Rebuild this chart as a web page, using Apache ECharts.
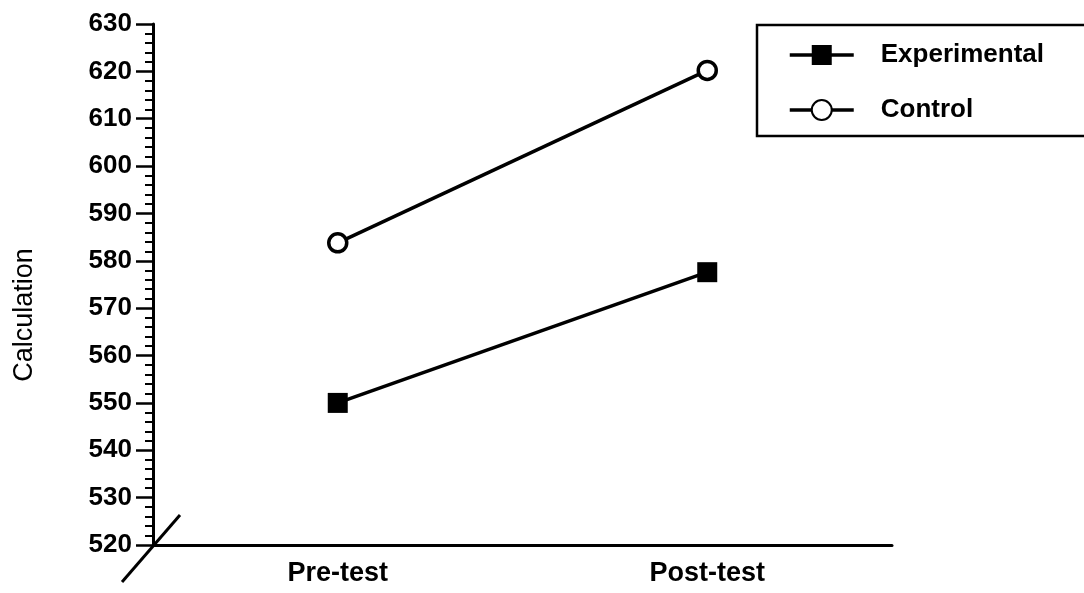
<!DOCTYPE html>
<html>
<head>
<meta charset="utf-8">
<script src="https://cdn.jsdelivr.net/npm/echarts@6/dist/echarts.min.js"></script>
<style>
  html, body { margin: 0; padding: 0; background: #fff; }
  #chart { width: 1084px; height: 593px; }
</style>
</head>
<body>
<div id="chart"></div>
<script>
var categories = ['Pre-test', 'Post-test'];
var experimental = [550, 577.6];
var control = [583.8, 620.2];
var yMin = 520, yMax = 630, yStep = 10;

var font = '"Liberation Sans", Arial, sans-serif';
var myChart = echarts.init(document.getElementById('chart'));

myChart.setOption({
  backgroundColor: '#fff',
  animation: false,
  grid: {left: 153, right: 192, top: 24, bottom: 48},
  legend: {
    orient: 'vertical',
    left: 757,
    top: 25,
    padding: [17, 120, 13, 31],
    itemGap: 29,
    itemWidth: 64,
    itemHeight: 25,
    borderColor: '#000',
    borderWidth: 2.5,
    borderRadius: 0,
    lineStyle: {width: 3.5},
    textStyle: {fontFamily: font, fontWeight: 'bold', fontSize: 26, color: '#000', padding: [0, 0, 0, 22]},
    data: ['Experimental', 'Control']
  },
  xAxis: {
    type: 'category',
    data: categories,
    boundaryGap: true,
    axisLine: {lineStyle: {color: '#000', width: 3}},
    axisTick: {show: false},
    axisLabel: {fontFamily: font, fontWeight: 'bold', fontSize: 27, color: '#000', margin: 15},
    splitLine: {show: false}
  },
  yAxis: {
    type: 'value',
    min: yMin,
    max: yMax,
    interval: yStep,
    axisLine: {show: true, lineStyle: {color: '#000', width: 3}},
    axisTick: {show: true, length: 17, lineStyle: {color: '#000', width: 2.5}},
    minorTick: {show: true, splitNumber: 5, length: 8, lineStyle: {color: '#000', width: 2}},
    axisLabel: {fontFamily: font, fontWeight: 'bold', fontSize: 26, color: '#000', margin: 21},
    splitLine: {show: false}
  },
  graphic: [
    {
      type: 'line',
      shape: {x1: 122, y1: 582, x2: 180, y2: 515},
      style: {stroke: '#000', lineWidth: 3}
    },
    {
      type: 'text',
      x: 25,
      y: 315,
      rotation: Math.PI / 2,
      style: {
        text: 'Calculation',
        font: 'normal 27px "Liberation Sans"',
        fill: '#000',
        align: 'center',
        verticalAlign: 'middle'
      }
    }
  ],
  series: [
    {
      name: 'Experimental',
      type: 'line',
      data: experimental,
      symbol: 'rect',
      symbolSize: 20,
      itemStyle: {color: '#000'},
      lineStyle: {color: '#000', width: 3.5}
    },
    {
      name: 'Control',
      type: 'line',
      data: control,
      symbol: 'circle',
      symbolSize: 18,
      itemStyle: {color: '#fff', borderColor: '#000', borderWidth: 3.5},
      lineStyle: {color: '#000', width: 3.5}
    }
  ]
});
</script>
</body>
</html>
